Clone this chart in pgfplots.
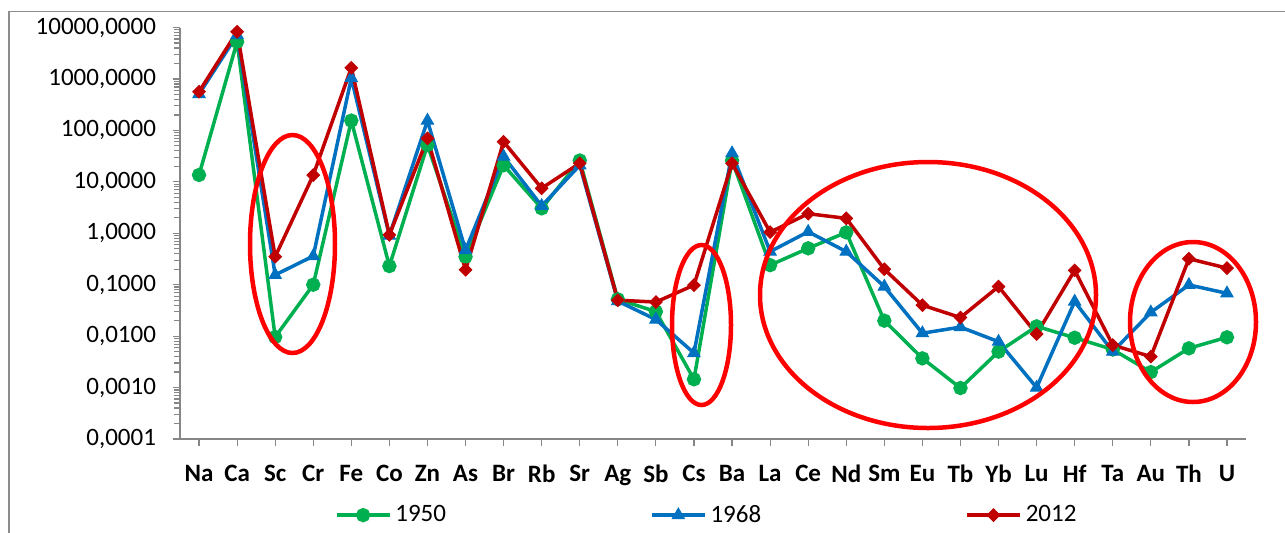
\documentclass[border=0pt]{standalone}
\usepackage{pgfplots}
\pgfplotsset{compat=1.18}
\usepackage{pgfplotstable}
\usepackage{fontspec}
\setmainfont{Carlito}
\definecolor{cGreen}{HTML}{00B050}
\definecolor{cBlue}{HTML}{0070C0}
\definecolor{cRed}{HTML}{C00000}
\definecolor{cAxis}{HTML}{868686}
\definecolor{cFrame}{HTML}{8C8C8C}

\pgfplotstableread{
x y
0 13.6
1 5290
2 0.0096
3 0.10
4 155
5 0.23
6 52
7 0.35
8 21
9 3.05
10 26
11 0.052
12 0.030
13 0.00145
14 26
15 0.24
16 0.51
17 1.04
18 0.020
19 0.0037
20 0.00098
21 0.0050
22 0.0155
23 0.0093
24 0.0055
25 0.0020
26 0.0058
27 0.0095
}\tA
\pgfplotstableread{
x y
0 509
1 7140
2 0.155
3 0.36
4 1040
5 0.9
6 155
7 0.47
8 31
9 3.4
10 21
11 0.048
12 0.021
13 0.0047
14 36
15 0.44
16 1.07
17 0.44
18 0.092
19 0.0114
20 0.015
21 0.0078
22 0.001
23 0.047
24 0.005
25 0.029
26 0.099
27 0.068
}\tB
\pgfplotstableread{
x y
0 565
1 8280
2 0.35
3 13.5
4 1650
5 0.93
6 70
7 0.195
8 60
9 7.5
10 23
11 0.050
12 0.046
13 0.098
14 23
15 1.05
16 2.4
17 1.95
18 0.20
19 0.040
20 0.023
21 0.092
22 0.011
23 0.19
24 0.0067
25 0.0040
26 0.32
27 0.21
}\tC

\begin{document}
\begin{tikzpicture}[x=1pt,y=1pt]
\useasboundingbox (0,0) rectangle (642.5,-266);
\draw[cFrame,line width=0.75pt] (4.5,-270) -- (4.5,-5.75) -- (650,-5.75);
\begin{axis}[
  at={(90pt,-219.5pt)}, anchor=south west,
  scale only axis, width=533pt, height=205.75pt,
  ymode=log, ymin=1e-4, ymax=1e4,
  xmin=-0.5, xmax=27.5,
  axis x line=bottom, axis y line=left,
  axis line style={-, cAxis, line width=0.6pt},
  ytick={1e-4,1e-3,1e-2,1e-1,1,10,100,1000,10000},
  yticklabels={{0,0001},{0,0010},{0,0100},{0,1000},{1,0000},{10,0000},{100,0000},{1000,0000},{10000,0000}},
  xtick={0,...,27},
  xticklabels={Na,Ca,Sc,Cr,Fe,Co,Zn,As,Br,Rb,Sr,Ag,Sb,Cs,Ba,La,Ce,Nd,Sm,Eu,Tb,Yb,Lu,Hf,Ta,Au,Th,U},
  minor tick num=0,
  tick align=outside,
  major tick length=3.5pt,
  tick style={cAxis, line width=0.6pt},
  yticklabel style={font=\fontsize{12.5}{15}\selectfont, xshift=-5pt},
  xticklabel style={font=\fontsize{12.5}{15}\selectfont\bfseries, yshift=-6pt},
  legend columns=3,
  legend style={at={(0.495,-0.185)}, anchor=center, draw=none, fill=none,
    font=\fontsize{12.5}{15}\selectfont,
    /tikz/every even column/.append style={column sep=100pt}},
  legend image code/.code={\draw[mark repeat=2,mark phase=2] plot coordinates {(0pt,0pt)(13.25pt,0pt)(26.5pt,0pt)};},
  every axis plot/.append style={line width=1.75pt},
  clip=false,
]
\addplot[cGreen, mark=*, mark size=2.7pt, mark options={solid,fill=cGreen}] table[x=x,y=y]{\tA};
\addlegendentry{1950}
\addplot[cBlue, mark=triangle*, mark size=3.5pt, mark options={solid,fill=cBlue,line width=0.5pt}] table[x=x,y=y]{\tB};
\addlegendentry{1968}
\addplot[cRed, mark=square*, mark size=2.2pt, mark options={solid,fill=cRed,line width=0.5pt,rotate=45}] table[x=x,y=y]{\tC};
\addlegendentry{2012}
\end{axis}
\begin{scope}[line width=2.25pt, draw={rgb,255:red,255;green,0;blue,0}]
\draw (146.25,-122) ellipse [x radius=21.25, y radius=54.5];
\draw (350.75,-162.5) ellipse [x radius=14.75, y radius=40];
\draw (464,-147.5) ellipse [x radius=84, y radius=66.5];
\draw (596.5,-161) ellipse [x radius=31.5, y radius=40];
\end{scope}
\end{tikzpicture}
\end{document}
